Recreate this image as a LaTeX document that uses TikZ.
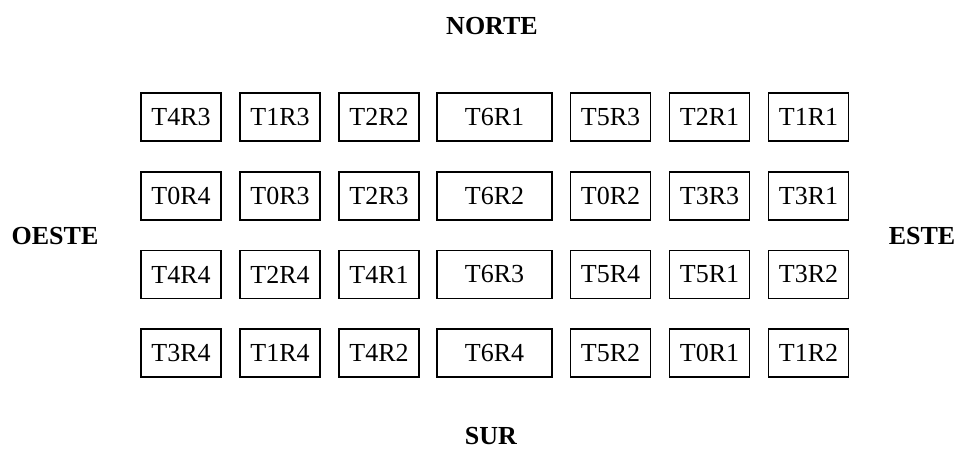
\documentclass[tikz,border=0pt]{standalone}
\usepackage{fontspec}
\setmainfont{Liberation Serif}
\begin{document}
\begin{tikzpicture}[x=1pt,y=-1pt,
  cell/.style={draw,line width=1.6pt,minimum width=80pt,minimum height=48pt,inner sep=0pt,font=\fontsize{26}{30}\selectfont},
  wide/.style={cell,minimum width=115pt},
  dir/.style={inner sep=0pt,font=\fontsize{26}{30}\selectfont\bfseries}]
\useasboundingbox (0,0) rectangle (958,456);
\node[dir] (n) at (492,26) {NORTE};
\node[dir] (s) at (491,436) {SUR};
\node[dir] (w) at (55,236) {OESTE};
\node[dir] (e) at (922,236) {ESTE};
% row 1
\node[cell] (a1) at (181,117) {T4R3};
\node[cell] (b1) at (280,117) {T1R3};
\node[cell] (c1) at (379,117) {T2R2};
\node[wide] (d1) at (494.5,117) {T6R1};
\node[cell] (e1) at (610.5,117) {T5R3};
\node[cell] (f1) at (709.5,117) {T2R1};
\node[cell] (g1) at (808.5,117) {T1R1};
% row 2
\node[cell] (a2) at (181,196) {T0R4};
\node[cell] (b2) at (280,196) {T0R3};
\node[cell] (c2) at (379,196) {T2R3};
\node[wide] (d2) at (494.5,196) {T6R2};
\node[cell] (e2) at (610.5,196) {T0R2};
\node[cell] (f2) at (709.5,196) {T3R3};
\node[cell] (g2) at (808.5,196) {T3R1};
% row 3
\node[cell] (a3) at (181,274.5) {T4R4};
\node[cell] (b3) at (280,274.5) {T2R4};
\node[cell] (c3) at (379,274.5) {T4R1};
\node[wide] (d3) at (494.5,274.5) {T6R3};
\node[cell] (e3) at (610.5,274.5) {T5R4};
\node[cell] (f3) at (709.5,274.5) {T5R1};
\node[cell] (g3) at (808.5,274.5) {T3R2};
% row 4
\node[cell] (a4) at (181,353) {T3R4};
\node[cell] (b4) at (280,353) {T1R4};
\node[cell] (c4) at (379,353) {T4R2};
\node[wide] (d4) at (494.5,353) {T6R4};
\node[cell] (e4) at (610.5,353) {T5R2};
\node[cell] (f4) at (709.5,353) {T0R1};
\node[cell] (g4) at (808.5,353) {T1R2};
\end{tikzpicture}
\end{document}
